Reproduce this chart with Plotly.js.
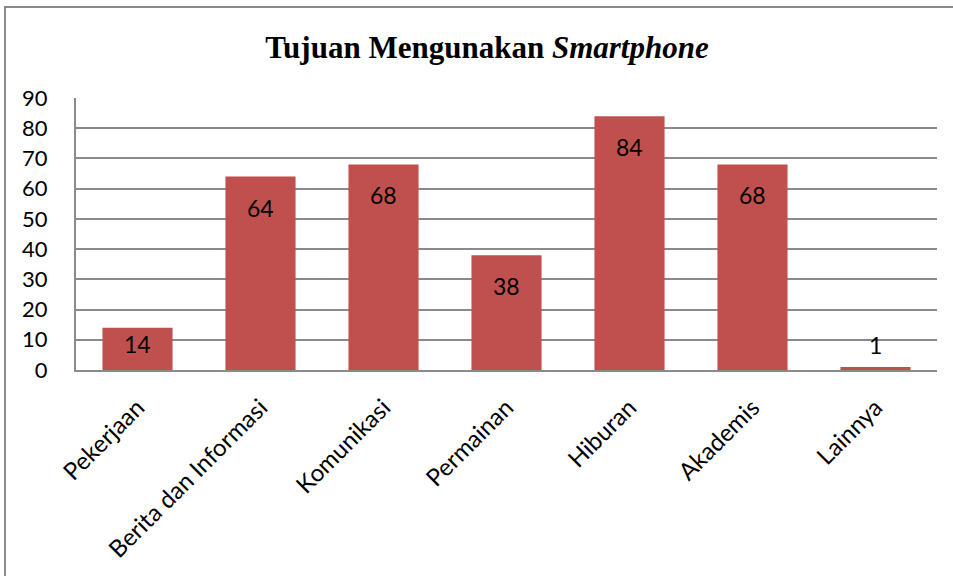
<!DOCTYPE html>
<html>
<head>
<meta charset="utf-8">
<script src="https://cdn.plot.ly/plotly-3.0.1.min.js"></script>
<style>
html,body{margin:0;padding:0;background:#fff;}
#chart{position:absolute;left:0;top:0;width:953px;height:576px;}
#frame{position:absolute;left:4px;top:6px;width:980px;height:600px;border-left:2px solid #8a8a8a;border-top:2px solid #8a8a8a;pointer-events:none;}
</style>
</head>
<body>
<div id="chart"></div>
<div id="frame"></div>
<script>
const categories = ["Pekerjaan","Berita dan Informasi","Komunikasi","Permainan","Hiburan","Akademis","Lainnya"];
const values = [14, 64, 68, 38, 84, 68, 1];
const yTicks = [0,10,20,30,40,50,60,70,80,90];

const labelFont = {family: "Lato, 'Open Sans', sans-serif", size: 23, color: "#000"};
const xFont = {family: "Lato, 'Open Sans', sans-serif", size: 24, color: "#000"};

const annotations = categories.map((c, i) => {
  const v = values[i];
  let shift = -31;
  if (v < 5) shift = 22; else if (v < 20) shift = -16;
  return {x: c, y: v, xref: "x", yref: "y", text: String(v), showarrow: false,
          yanchor: "middle", yshift: shift, font: labelFont};
});

const trace = {
  type: "bar",
  x: categories,
  y: values,
  marker: {color: "#C0504D"},
  hoverinfo: "none"
};

const layout = {
  width: 953, height: 576,
  margin: {l: 76, r: 16, t: 98, b: 206},
  paper_bgcolor: "#fff", plot_bgcolor: "#fff",
  bargap: 0.43,
  showlegend: false,
  title: {text: "<b>Tujuan Mengunakan <i>Smartphone</i></b>",
          font: {family: "'Liberation Serif', 'Times New Roman', serif", size: 31, color: "#000"},
          x: 0.511, xanchor: "center", y: 0.918, yanchor: "middle"},
  xaxis: {
    type: "category", tickangle: -45, tickfont: xFont,
    showline: true, linecolor: "#8a8a8a", linewidth: 2,
    showgrid: false, ticks: "", ticklabelstandoff: 12, fixedrange: true
  },
  yaxis: {
    range: [0, 90], tickvals: yTicks, ticktext: yTicks.map(String),
    tickfont: {family: "Lato, 'Open Sans', sans-serif", size: 22, color: "#000"},
    showgrid: true, gridcolor: "#8a8a8a", gridwidth: 2,
    showline: true, linecolor: "#8a8a8a", linewidth: 2, zeroline: false,
    ticks: "", ticklabelstandoff: 22, fixedrange: true
  },
  annotations: annotations
};

Plotly.newPlot("chart", [trace], layout, {displayModeBar: false, staticPlot: true});
</script>
</body>
</html>
